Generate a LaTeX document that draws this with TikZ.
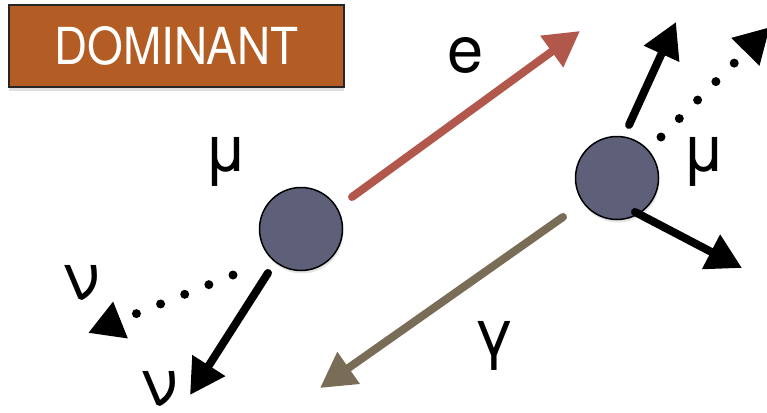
\documentclass[tikz,border=0pt]{standalone}
\usepackage{fontspec}
\setmainfont{TeX Gyre Heros}
\usetikzlibrary{arrows.meta,shadows}
\definecolor{boxorange}{RGB}{179,92,35}
\definecolor{ballgray}{RGB}{94,95,121}
\definecolor{etrack}{RGB}{177,87,75}
\definecolor{gtrack}{RGB}{122,109,87}
\begin{document}
\begin{tikzpicture}[x=1pt,y=-1pt,
  particle/.style={circle, draw=black, line width=1.5pt, fill=ballgray, minimum size=83pt, inner sep=0pt,
    drop shadow={opacity=0.2, shadow xshift=1pt, shadow yshift=-3pt}},
  lbl/.style={font=\fontsize{65}{78}\selectfont, inner sep=0pt},
  tagbox/.style={draw=black!85, line width=1.5pt, fill=boxorange, minimum width=335pt, minimum height=82pt,
    inner sep=0pt, text=white, font=\fontsize{51}{60}\selectfont,
    drop shadow={opacity=0.25, shadow xshift=0pt, shadow yshift=-4pt}},
  track/.style={line width=8pt, line cap=round, -{Triangle[length=35pt,width=37pt]}},
  dottrack/.style={line width=9pt, line cap=round, dash pattern=on 0pt off 26pt, -{Triangle[length=35pt,width=37pt]}},
]
\useasboundingbox (0,0) rectangle (767,412);

\node[tagbox] (tag) at (176.5,46) {\scalebox{0.9}[1]{DOMINANT}};

\node[particle] (mu1) at (301,229) {};
\node[particle] (mu2) at (617,178) {};

% labels
\node[lbl] (le) at (466,55) {e};
\node[lbl] (lmu1) at (226,162) {μ};
\node[lbl] (lmu2) at (704,162) {μ};
\node[lbl] (lgam) at (494,346) {γ};
\node[lbl] (lnu1) at (81,283) {ν};
\node[lbl] (lnu2) at (159,389) {ν};

% coordinates for track ends
\coordinate (eS) at (352,197);
\coordinate (eE) at (580,31);
\coordinate (gS) at (563,217);
\coordinate (gE) at (320,388);
\coordinate (n1S) at (268,273);
\coordinate (n1E) at (190,395);
\coordinate (n2S) at (233,275);
\coordinate (n2E) at (88,333);
\coordinate (d1S) at (629,125);
\coordinate (d1E) at (676,22);
\coordinate (d2S) at (661,137);
\coordinate (d2E) at (770,27);
\coordinate (d3S) at (635,212);
\coordinate (d3E) at (742,268);

\draw[track, etrack] (eS) -- (eE);
\draw[track, gtrack] (gS) -- (gE);
\draw[track, black] (n1S) -- (n1E);
\draw[dottrack, black] (n2S) -- (n2E);
\draw[track, black] (d1S) -- (d1E);
\draw[dottrack, black] (d2S) -- (d2E);
\draw[track, black] (d3S) -- (d3E);
\end{tikzpicture}
\end{document}
